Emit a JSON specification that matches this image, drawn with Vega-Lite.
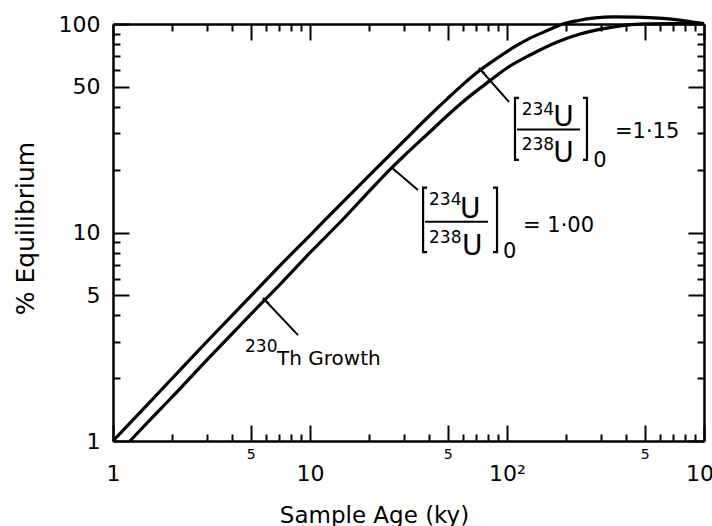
{
  "$schema": "https://vega.github.io/schema/vega-lite/v6.json",
  "autosize": {"type": "none"},
  "padding": {"left": 113, "top": 24, "right": 8, "bottom": 85},
  "width": 591,
  "height": 417,
  "background": "white",
  "config": {
    "view": {"stroke": null},
    "axis": {"grid": false, "labelFont": "DejaVu Sans", "titleFont": "DejaVu Sans", "labelColor": "black", "titleColor": "black", "titleFontWeight": "normal"},
    "text": {"font": "DejaVu Sans", "color": "black"}
  },
  "resolve": {"axis": {"x": "independent", "y": "independent"}},
  "layer": [
    {
      "data": {"values": [
        {"series": "1.15", "age": 1, "pct": 1.0},
        {"series": "1.15", "age": 1.5, "pct": 1.5},
        {"series": "1.15", "age": 2, "pct": 2.0},
        {"series": "1.15", "age": 3, "pct": 3.0},
        {"series": "1.15", "age": 5, "pct": 4.95},
        {"series": "1.15", "age": 7, "pct": 6.9},
        {"series": "1.15", "age": 10, "pct": 9.7},
        {"series": "1.15", "age": 15, "pct": 14.3},
        {"series": "1.15", "age": 20, "pct": 18.8},
        {"series": "1.15", "age": 30, "pct": 27.5},
        {"series": "1.15", "age": 40, "pct": 36},
        {"series": "1.15", "age": 50, "pct": 44},
        {"series": "1.15", "age": 60, "pct": 51.5},
        {"series": "1.15", "age": 72, "pct": 59.5},
        {"series": "1.15", "age": 90, "pct": 69},
        {"series": "1.15", "age": 110, "pct": 78},
        {"series": "1.15", "age": 131, "pct": 85.5},
        {"series": "1.15", "age": 160, "pct": 93},
        {"series": "1.15", "age": 192, "pct": 100},
        {"series": "1.15", "age": 230, "pct": 104},
        {"series": "1.15", "age": 280, "pct": 107},
        {"series": "1.15", "age": 345, "pct": 108.3},
        {"series": "1.15", "age": 450, "pct": 108},
        {"series": "1.15", "age": 620, "pct": 106.3},
        {"series": "1.15", "age": 800, "pct": 103.5},
        {"series": "1.15", "age": 921, "pct": 101.5},
        {"series": "1.15", "age": 1000, "pct": 100.5},
        {"series": "1.00", "age": 1.22, "pct": 1.0},
        {"series": "1.00", "age": 1.5, "pct": 1.23},
        {"series": "1.00", "age": 2, "pct": 1.63},
        {"series": "1.00", "age": 3, "pct": 2.45},
        {"series": "1.00", "age": 5, "pct": 4.05},
        {"series": "1.00", "age": 7, "pct": 5.6},
        {"series": "1.00", "age": 10, "pct": 8.0},
        {"series": "1.00", "age": 15, "pct": 11.8},
        {"series": "1.00", "age": 20, "pct": 15.8},
        {"series": "1.00", "age": 25.8, "pct": 20.3},
        {"series": "1.00", "age": 30, "pct": 23.3},
        {"series": "1.00", "age": 40, "pct": 30},
        {"series": "1.00", "age": 50, "pct": 36.5},
        {"series": "1.00", "age": 60, "pct": 42.5},
        {"series": "1.00", "age": 82, "pct": 53.5},
        {"series": "1.00", "age": 100, "pct": 61.5},
        {"series": "1.00", "age": 131, "pct": 71},
        {"series": "1.00", "age": 180, "pct": 82},
        {"series": "1.00", "age": 235, "pct": 89.5},
        {"series": "1.00", "age": 300, "pct": 94.5},
        {"series": "1.00", "age": 362, "pct": 97.5},
        {"series": "1.00", "age": 430, "pct": 99.3},
        {"series": "1.00", "age": 514, "pct": 100.2},
        {"series": "1.00", "age": 700, "pct": 100.5},
        {"series": "1.00", "age": 1000, "pct": 100.3}
      ]},
      "mark": {"type": "line", "color": "black", "strokeWidth": 3.2, "interpolate": "monotone", "clip": false},
      "encoding": {
        "x": {"field": "age", "type": "quantitative",
          "scale": {"type": "log", "domain": [1, 1000], "nice": false},
          "axis": {
            "orient": "bottom",
            "values": [1,2,3,4,5,6,7,8,9,10,20,30,40,50,60,70,80,90,100,200,300,400,500,600,700,800,900,1000],
            "domainColor": "black", "domainWidth": 2.5,
            "tickColor": "black", "tickWidth": 2,
            "tickSize": {"condition": {"test": "indexof([1,5,10,50,100,500,1000], datum.value) >= 0", "value": -16}, "value": -7},
            "labelExpr": "datum.value == 1 ? '1' : datum.value == 10 ? '10' : datum.value == 100 ? '10²' : datum.value == 1000 ? '10³' : (datum.value == 5 || datum.value == 50 || datum.value == 500) ? '5' : ''",
            "labelFontSize": {"condition": {"test": "datum.value == 5 || datum.value == 50 || datum.value == 500", "value": 14}, "value": 22},
            "labelPadding": {"condition": {"test": "datum.value == 5 || datum.value == 50 || datum.value == 500", "value": 22}, "value": 38},
            "labelOverlap": false, "labelFlush": false, "labelBound": false,
            "title": "Sample Age (ky)", "titleFontSize": 23,
            "titleX": 261, "titleY": 74, "titleAlign": "center", "titleBaseline": "middle"
          }},
        "y": {"field": "pct", "type": "quantitative",
          "scale": {"type": "log", "domain": [1, 100], "nice": false},
          "axis": {
            "orient": "left",
            "values": [1,2,3,4,5,6,7,8,9,10,20,30,40,50,60,70,80,90,100],
            "domainColor": "black", "domainWidth": 2.5,
            "tickColor": "black", "tickWidth": 2,
            "tickSize": {"condition": {"test": "indexof([1,5,10,50,100], datum.value) >= 0", "value": -16}, "value": -7},
            "labelExpr": "indexof([1,5,10,50,100], datum.value) >= 0 ? datum.label : ''",
            "labelFontSize": 22, "labelPadding": 29,
            "labelOverlap": false, "labelFlush": false, "labelBound": false,
            "title": "% Equilibrium", "titleFontSize": 25, "titleAngle": -90,
            "titleX": -88, "titleY": 204, "titleAlign": "center", "titleBaseline": "middle"
          }},
        "detail": {"field": "series"}
      }
    },
    {
      "data": {"values": [
        {"b": "L100", "o": 1, "age": 39.3, "pct": 16.4},
        {"b": "L100", "o": 2, "age": 37.5, "pct": 16.4},
        {"b": "L100", "o": 3, "age": 37.5, "pct": 8.06},
        {"b": "L100", "o": 4, "age": 39.3, "pct": 8.06},
        {"b": "R100", "o": 1, "age": 84.9, "pct": 16.4},
        {"b": "R100", "o": 2, "age": 89.0, "pct": 16.4},
        {"b": "R100", "o": 3, "age": 89.0, "pct": 8.06},
        {"b": "R100", "o": 4, "age": 84.9, "pct": 8.06},
        {"b": "L115", "o": 1, "age": 115.1, "pct": 44.2},
        {"b": "L115", "o": 2, "age": 109.8, "pct": 44.2},
        {"b": "L115", "o": 3, "age": 109.8, "pct": 22.3},
        {"b": "L115", "o": 4, "age": 115.1, "pct": 22.3},
        {"b": "R115", "o": 1, "age": 243.2, "pct": 44.2},
        {"b": "R115", "o": 2, "age": 254.7, "pct": 44.2},
        {"b": "R115", "o": 3, "age": 254.7, "pct": 22.3},
        {"b": "R115", "o": 4, "age": 243.2, "pct": 22.3}
      ]},
      "mark": {"type": "line", "color": "black", "strokeWidth": 2.2, "clip": false},
      "encoding": {
        "x": {"field": "age", "type": "quantitative",
          "scale": {"type": "log", "domain": [1, 1000], "nice": false},
          "axis": {
            "orient": "top",
            "values": [1,2,3,4,5,6,7,8,9,10,20,30,40,50,60,70,80,90,100,200,300,400,500,600,700,800,900,1000],
            "labels": false, "title": null,
            "domainColor": "black", "domainWidth": 2.5,
            "tickColor": "black", "tickWidth": 2,
            "tickSize": {"condition": {"test": "indexof([1,5,10,50,100,500,1000], datum.value) >= 0", "value": -16}, "value": -7}
          }},
        "y": {"field": "pct", "type": "quantitative",
          "scale": {"type": "log", "domain": [1, 100], "nice": false},
          "axis": {
            "orient": "right",
            "values": [1,2,3,4,5,6,7,8,9,10,20,30,40,50,60,70,80,90,100],
            "labels": false, "title": null,
            "domainColor": "black", "domainWidth": 2.5,
            "tickColor": "black", "tickWidth": 2,
            "tickSize": {"condition": {"test": "indexof([1,5,10,50,100], datum.value) >= 0", "value": -16}, "value": -7}
          }},
        "detail": {"field": "b"},
        "order": {"field": "o"}
      }
    },
    {
      "data": {"values": [
        {"age": 38.4, "age2": 80.1, "pct": 11.27},
        {"age": 112.4, "age2": 234.8, "pct": 31.2}
      ]},
      "mark": {"type": "rule", "color": "black", "strokeWidth": 2},
      "encoding": {
        "x": {"field": "age", "type": "quantitative", "scale": {"type": "log", "domain": [1, 1000], "nice": false}, "axis": null},
        "x2": {"field": "age2"},
        "y": {"field": "pct", "type": "quantitative", "scale": {"type": "log", "domain": [1, 100], "nice": false}, "axis": null}
      }
    },
    {
      "data": {"values": [
        {"age": 5.77, "pct": 4.85, "age2": 8.69, "pct2": 3.22},
        {"age": 25.8, "pct": 20.6, "age2": 35.3, "pct2": 16.0},
        {"age": 72.1, "pct": 61.5, "age2": 102.3, "pct2": 42.3}
      ]},
      "mark": {"type": "rule", "color": "black", "strokeWidth": 2},
      "encoding": {
        "x": {"field": "age", "type": "quantitative", "scale": {"type": "log", "domain": [1, 1000], "nice": false}, "axis": null},
        "x2": {"field": "age2"},
        "y": {"field": "pct", "type": "quantitative", "scale": {"type": "log", "domain": [1, 100], "nice": false}, "axis": null},
        "y2": {"field": "pct2"}
      }
    },
    {
      "data": {"values": [
        {"age": 6.02, "pct": 4.66},
        {"age": 26.9, "pct": 19.9},
        {"age": 75.0, "pct": 59.1}
      ]},
      "mark": {"type": "point", "shape": "wedge", "filled": true, "color": "black", "opacity": 1, "size": 80, "angle": 313},
      "encoding": {
        "x": {"field": "age", "type": "quantitative", "scale": {"type": "log", "domain": [1, 1000], "nice": false}, "axis": null},
        "y": {"field": "pct", "type": "quantitative", "scale": {"type": "log", "domain": [1, 100], "nice": false}, "axis": null}
      }
    },
    {
      "data": {"values": [
        {"t": "230", "age": 4.68, "pct": 2.68},
        {"t": "234", "age": 40.2, "pct": 13.55},
        {"t": "238", "age": 40.2, "pct": 8.88},
        {"t": "234", "age": 118.8, "pct": 36.6},
        {"t": "238", "age": 118.8, "pct": 24.9}
      ]},
      "mark": {"type": "text", "align": "left", "baseline": "alphabetic", "fontSize": 17},
      "encoding": {
        "x": {"field": "age", "type": "quantitative", "scale": {"type": "log", "domain": [1, 1000], "nice": false}, "axis": null},
        "y": {"field": "pct", "type": "quantitative", "scale": {"type": "log", "domain": [1, 100], "nice": false}, "axis": null},
        "text": {"field": "t"}
      }
    },
    {
      "data": {"values": [
        {"t": "U", "age": 57.7, "pct": 11.73},
        {"t": "U", "age": 59.1, "pct": 7.8},
        {"t": "U", "age": 171.8, "pct": 32.4},
        {"t": "U", "age": 171.8, "pct": 21.9}
      ]},
      "mark": {"type": "text", "align": "left", "baseline": "alphabetic", "fontSize": 28},
      "encoding": {
        "x": {"field": "age", "type": "quantitative", "scale": {"type": "log", "domain": [1, 1000], "nice": false}, "axis": null},
        "y": {"field": "pct", "type": "quantitative", "scale": {"type": "log", "domain": [1, 100], "nice": false}, "axis": null},
        "text": {"field": "t"}
      }
    },
    {
      "data": {"values": [
        {"t": "Th Growth", "age": 6.8, "pct": 2.31}
      ]},
      "mark": {"type": "text", "align": "left", "baseline": "alphabetic", "fontSize": 20},
      "encoding": {
        "x": {"field": "age", "type": "quantitative", "scale": {"type": "log", "domain": [1, 1000], "nice": false}, "axis": null},
        "y": {"field": "pct", "type": "quantitative", "scale": {"type": "log", "domain": [1, 100], "nice": false}, "axis": null},
        "text": {"field": "t"}
      }
    },
    {
      "data": {"values": [
        {"t": "= 1·00", "age": 120.6, "pct": 10.09},
        {"t": "=1·15", "age": 353.2, "pct": 28.3},
        {"t": "0", "age": 95.5, "pct": 7.52},
        {"t": "0", "age": 274.2, "pct": 20.7}
      ]},
      "mark": {"type": "text", "align": "left", "baseline": "alphabetic", "fontSize": 21},
      "encoding": {
        "x": {"field": "age", "type": "quantitative", "scale": {"type": "log", "domain": [1, 1000], "nice": false}, "axis": null},
        "y": {"field": "pct", "type": "quantitative", "scale": {"type": "log", "domain": [1, 100], "nice": false}, "axis": null},
        "text": {"field": "t"}
      }
    }
  ]
}
